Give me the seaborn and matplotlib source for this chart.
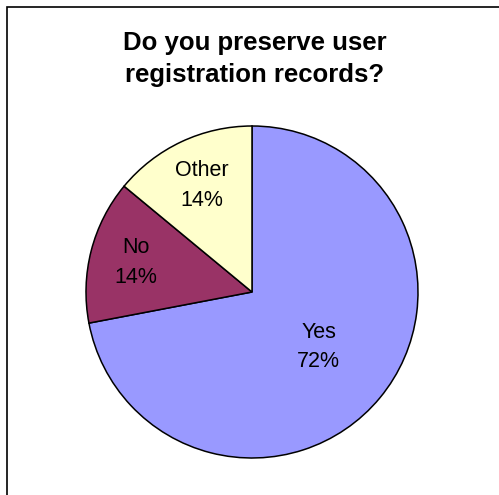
import matplotlib
matplotlib.use("Agg")
import matplotlib.pyplot as plt
import matplotlib.patches as mpatches
import numpy as np
import seaborn as sns

# Survey answers
categories = ["Yes", "No", "Other"]
shares = [72, 14, 14]
slice_colors = ["#9999FF", "#993366", "#FFFFCC"]
title_text = "Do you preserve user\nregistration records?"

sns.set_theme(style="white")
plt.rcParams["font.family"] = ["Liberation Sans", "DejaVu Sans"]

W, H = 499, 495
fig = plt.figure(figsize=(W / 100, H / 100), dpi=100)
fig.patch.set_facecolor("white")

# chart-area frame (open at the bottom/right edges)
frame = mpatches.Rectangle((7 / W, -0.1), 1.2, (H - 7) / H + 0.1,
                           transform=fig.transFigure, fill=False,
                           edgecolor="black", linewidth=1.2, clip_on=False)
fig.patches.append(frame)

fig.text(255 / W, 1 - 59 / H, title_text, ha="center", va="center",
         fontsize=18.5, fontweight="bold", color="black", linespacing=1.4)

cx, cy, r = 252, 292, 166
ax = fig.add_axes([(cx - r) / W, (H - cy - r) / H, 2 * r / W, 2 * r / H])
wedges, _ = ax.pie(shares, colors=slice_colors, startangle=90, counterclock=False,
                   radius=1.0, wedgeprops=dict(edgecolor="black", linewidth=1.1))
ax.set_xlim(-1, 1)
ax.set_ylim(-1, 1)
ax.set_aspect("equal")
ax.axis("off")

label_dist = [0.52, 0.72, 0.71]
total = sum(shares)
for w, cat, val, d in zip(wedges, categories, shares, label_dist):
    mid = np.deg2rad((w.theta1 + w.theta2) / 2)
    ax.text(d * np.cos(mid), d * np.sin(mid), f"{cat}\n{round(100 * val / total)}%",
            ha="center", va="center", fontsize=15.5, color="black", linespacing=1.55)

fig.savefig("out.png", dpi=100)
